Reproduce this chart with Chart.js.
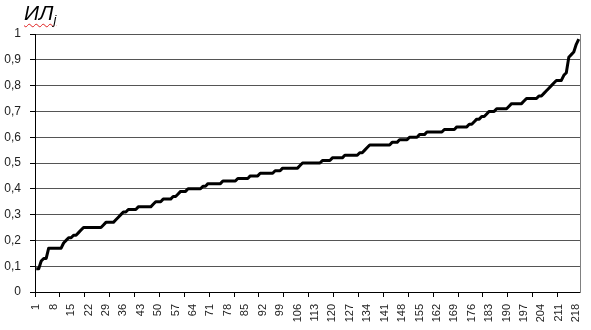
<!DOCTYPE html>
<html>
<head>
<meta charset="utf-8">
<script src="https://cdn.jsdelivr.net/npm/chart.js@4/dist/chart.umd.min.js"></script>
<style>
  html, body { margin: 0; padding: 0; background: #fff; }
  #wrap { position: relative; width: 591px; height: 330px; }
  #title {
    position: absolute; left: 24px; top: 1px;
    font-family: "Liberation Sans", Arial, sans-serif;
    font-style: italic; font-size: 21px; color: #000;
    text-decoration: underline wavy #e02020;
    text-decoration-thickness: 1px;
    text-underline-offset: 3px;
    white-space: nowrap;
  }
  #title sub { font-size: 13px; vertical-align: -4px; }
  canvas { position: absolute; left: 0; top: 0; }
</style>
</head>
<body>
<div id="wrap">
  <canvas id="c" width="591" height="330"></canvas>
  <div id="title">ИЛ<sub>j</sub></div>
</div>
<script>
const values = [
  0.09,0.09,0.12,0.13,0.13,0.17,0.17,0.17,0.17,0.17,
  0.17,0.19,0.20,0.21,0.21,0.22,0.22,0.23,0.24,0.25,
  0.25,0.25,0.25,0.25,0.25,0.25,0.25,0.26,0.27,0.27,
  0.27,0.27,0.28,0.29,0.30,0.31,0.31,0.32,0.32,0.32,
  0.32,0.33,0.33,0.33,0.33,0.33,0.33,0.34,0.35,0.35,
  0.35,0.36,0.36,0.36,0.36,0.37,0.37,0.38,0.39,0.39,
  0.39,0.40,0.40,0.40,0.40,0.40,0.40,0.41,0.41,0.42,
  0.42,0.42,0.42,0.42,0.42,0.43,0.43,0.43,0.43,0.43,
  0.43,0.44,0.44,0.44,0.44,0.44,0.45,0.45,0.45,0.45,
  0.46,0.46,0.46,0.46,0.46,0.46,0.47,0.47,0.47,0.48,
  0.48,0.48,0.48,0.48,0.48,0.48,0.49,0.50,0.50,0.50,
  0.50,0.50,0.50,0.50,0.50,0.51,0.51,0.51,0.51,0.52,
  0.52,0.52,0.52,0.52,0.53,0.53,0.53,0.53,0.53,0.53,
  0.54,0.54,0.55,0.56,0.57,0.57,0.57,0.57,0.57,0.57,
  0.57,0.57,0.57,0.58,0.58,0.58,0.59,0.59,0.59,0.59,
  0.60,0.60,0.60,0.60,0.61,0.61,0.61,0.62,0.62,0.62,
  0.62,0.62,0.62,0.62,0.63,0.63,0.63,0.63,0.63,0.64,
  0.64,0.64,0.64,0.64,0.65,0.65,0.66,0.67,0.67,0.68,
  0.68,0.69,0.70,0.70,0.70,0.71,0.71,0.71,0.71,0.71,
  0.72,0.73,0.73,0.73,0.73,0.73,0.74,0.75,0.75,0.75,
  0.75,0.75,0.76,0.76,0.77,0.78,0.79,0.80,0.81,0.82,
  0.82,0.82,0.84,0.85,0.91,0.92,0.93,0.96,0.98
];
const categories = values.map((_, i) => String(i + 1));
const xTickLabels = ['1','8','15','22','29','36','43','50','57','64','71','78','85','92','99','106',
  '113','120','127','134','141','148','155','162','169','176','183','190','197','204','211','218'];
const yTicks = [0,0.1,0.2,0.3,0.4,0.5,0.6,0.7,0.8,0.9,1];

function noPad(s) { s.paddingLeft = 0; s.paddingRight = 0; s.paddingTop = 0; s.paddingBottom = 0; }

new Chart(document.getElementById('c'), {
  type: 'line',
  data: {
    labels: categories,
    datasets: [{
      data: values,
      borderColor: '#000',
      borderWidth: 3,
      pointRadius: 0,
      tension: 0,
      borderJoinStyle: 'round',
      fill: false
    }]
  },
  options: {
    responsive: false,
    devicePixelRatio: 1,
    animation: false,
    layout: { padding: { top: 34, right: 11, left: 0, bottom: 0 } },
    plugins: { legend: { display: false }, tooltip: { enabled: false }, title: { display: false } },
    scales: {
      x: {
        type: 'category',
        offset: true,
        grid: {
          offset: true,
          drawOnChartArea: false,
          drawTicks: true,
          tickLength: 5,
          tickColor: (ctx) => (ctx.index % 10 === 0 ? '#000' : 'rgba(0,0,0,0)'),
          color: 'rgba(0,0,0,0)'
        },
        border: { display: true, color: '#000', width: 1 },
        ticks: {
          autoSkip: false,
          minRotation: 90,
          maxRotation: 90,
          padding: 7,
          color: '#222',
          font: { family: '"Liberation Sans", Arial, sans-serif', size: 11 },
          callback: function (value) {
            const lab = this.getLabelForValue(value);
            return xTickLabels.includes(lab) ? lab : '';
          }
        },
        afterFit: (s) => { s.height = 38; noPad(s); }
      },
      y: {
        min: 0, max: 1,
        afterBuildTicks: (s) => { s.ticks = yTicks.map(v => ({ value: v })); },
        grid: {
          color: (ctx) => (ctx.tick && ctx.tick.value === 0 ? 'rgba(0,0,0,0)' : '#555'),
          tickColor: '#000',
          tickLength: 5,
          lineWidth: 1
        },
        border: { display: true, color: '#000', width: 1 },
        ticks: {
          padding: 9,
          color: '#222',
          font: { family: '"Liberation Sans", Arial, sans-serif', size: 12 },
          callback: (v) => String(Math.round(v * 10) / 10).replace('.', ',')
        },
        afterFit: (s) => { s.width = 35; noPad(s); }
      },
      y2: {
        position: 'right',
        min: 0, max: 1,
        grid: { display: false },
        ticks: { display: false },
        border: { display: true, color: '#808080', width: 1 },
        afterFit: (s) => { s.width = 0; noPad(s); }
      }
    }
  }
});
</script>
</body>
</html>
